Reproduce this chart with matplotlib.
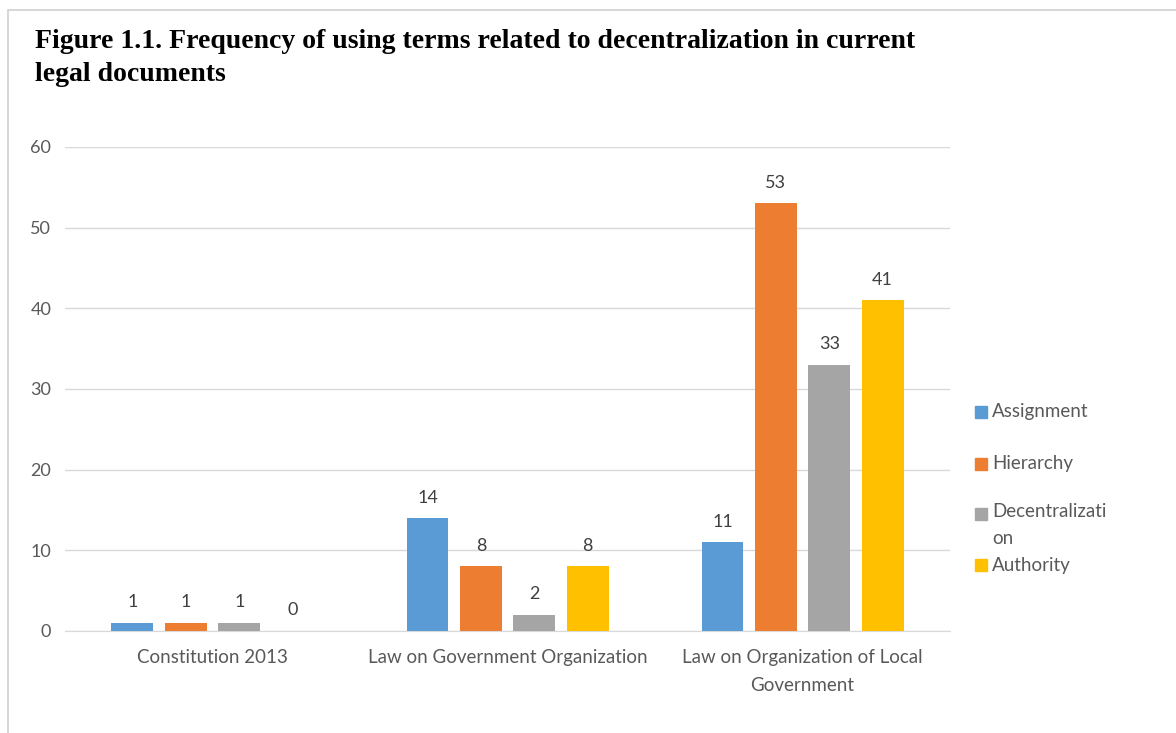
import matplotlib
matplotlib.use("Agg")
import matplotlib.pyplot as plt
import matplotlib.patches as patches
import numpy as np

categories = ["Constitution 2013", "Law on Government Organization",
              "Law on Organization of Local\nGovernment"]
series = ["Assignment", "Hierarchy", "Decentralization", "Authority"]
legend_labels = ["Assignment", "Hierarchy", "Decentralizati\non", "Authority"]
values = [
    [1, 14, 11],   # Assignment
    [1, 8, 53],    # Hierarchy
    [1, 2, 33],    # Decentralization
    [0, 8, 41],    # Authority
]
colors = ["#5b9bd5", "#ed7d31", "#a5a5a5", "#ffc000"]
yticks = [0, 10, 20, 30, 40, 50, 60]

plt.rcParams['font.family'] = ['Lato', 'DejaVu Sans']

fig = plt.figure(figsize=(11.76, 7.33), dpi=100)
ax = fig.add_axes([0.0553, 0.1392, 0.7526, 0.6603])

# frame lines of the screenshot (top and left only visible)
fig.add_artist(patches.Rectangle((8 / 1176, -0.1), 1.2, 1 - 10 / 733 + 0.1,
                                 transform=fig.transFigure, fill=False,
                                 edgecolor="#d0d0d0", linewidth=1.2))

x = np.arange(len(categories))
step = 0.181
width = 0.142
for i, name in enumerate(series):
    pos = x + (i - 1.5) * step
    bars = ax.bar(pos, values[i], width, color=colors[i], label=name, zorder=3)
    for b, v in zip(bars, values[i]):
        ax.annotate(str(v), (b.get_x() + b.get_width() / 2, v),
                    xytext=(0, 9), textcoords="offset points",
                    ha="center", va="bottom", fontsize=13, color="#404040")

ax.set_xlim(-0.5, 2.5)
ax.set_ylim(0, 60)
ax.set_yticks(yticks)
ax.set_xticks(x)
ax.set_xticklabels(categories, fontsize=13.5, color="#595959", linespacing=1.75)
ax.tick_params(axis="y", length=0, pad=10, labelsize=13, labelcolor="#595959")
ax.tick_params(axis="x", length=0, pad=13)
ax.grid(axis="y", color="#d9d9d9", linewidth=1, zorder=0)
ax.set_axisbelow(True)
for s in ["top", "right", "left"]:
    ax.spines[s].set_visible(False)
ax.spines["bottom"].set_color("#d9d9d9")

# legend on the right
leg_y = [412, 464, 514, 565]
for lab, col, yy in zip(legend_labels, colors, leg_y):
    fig.add_artist(patches.Rectangle((975 / 1176, 1 - (yy + 6) / 733), 12 / 1176, 12 / 733,
                                     transform=fig.transFigure, color=col))
    if "\n" in lab:
        fig.text(992 / 1176, 1 - (yy - 11) / 733, lab, fontsize=13.5, color="#595959",
                 va="top", linespacing=1.75)
    else:
        fig.text(992 / 1176, 1 - yy / 733, lab, fontsize=13.5, color="#595959",
                 va="center")

fig.text(35 / 1176, 1 - 29 / 733,
         "Figure 1.1. Frequency of using terms related to decentralization in current\nlegal documents",
         family="Liberation Serif", fontweight="bold", fontsize=20, va="top",
         linespacing=1.42)

fig.savefig("out.png", dpi=100, facecolor="white")
